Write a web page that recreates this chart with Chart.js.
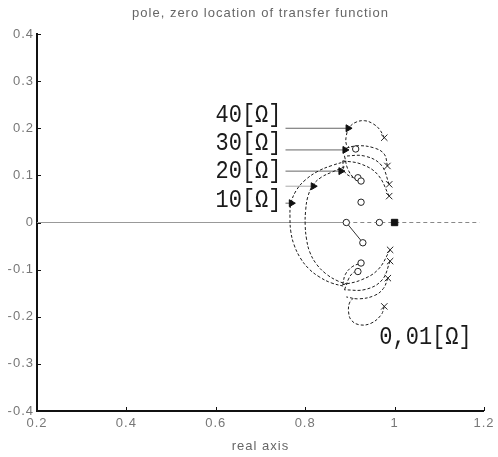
<!DOCTYPE html>
<html>
<head>
<meta charset="utf-8">
<script src="https://cdn.jsdelivr.net/npm/chart.js@4/dist/chart.umd.min.js"></script>
<style>
  html, body { margin: 0; padding: 0; background: #fff; }
  canvas { display: block; }
</style>
</head>
<body>
<canvas id="pzChart" width="498" height="457"></canvas>
<script>
const xTickLabels = ["0.2", "0.4", "0.6", "0.8", "1", "1.2"];
const yTickLabels = ["-0.4", "-0.3", "-0.2", "-0.1", "0", "0.1", "0.2", "0.3", "0.4"];

// poles at R = 0.01 ohm
const poleRe = [0.977, 0.984, 0.988, 0.988, 0.99, 0.99, 0.985, 0.977];
const poleIm = [0.18, 0.12, 0.081, 0.056, -0.058, -0.082, -0.118, -0.178];

// zeros
const zeroRe = [0.913, 0.918, 0.925, 0.925, 0.892, 0.966, 0.929, 0.925, 0.918];
const zeroIm = [0.156, 0.095, 0.088, 0.043, 0, 0, -0.043, -0.086, -0.104];

// filled marker on the real axis
const markRe = [1.0];
const markIm = [0];

// root loci as [re, im]
const loopUpper = [[0.977, 0.18], [0.966, 0.198], [0.951, 0.21], [0.933, 0.216], [0.914, 0.213], [0.899, 0.202], [0.892, 0.184], [0.892, 0.166], [0.899, 0.159]];
const arcUpperA = [[0.984, 0.12], [0.977, 0.145], [0.955, 0.158], [0.918, 0.163], [0.892, 0.158]];
const arcUpperB = [[0.988, 0.081], [0.97, 0.122], [0.933, 0.141], [0.888, 0.141]];
const arcUpperC = [[0.988, 0.056], [0.962, 0.102], [0.925, 0.124], [0.884, 0.131]];
const hookUpperA = [[0.884, 0.131], [0.888, 0.108], [0.905, 0.096], [0.918, 0.095]];
const hookUpperB = [[0.888, 0.141], [0.896, 0.112], [0.912, 0.092], [0.925, 0.088]];

const outerArc = [[0.892, 0.13], [0.86, 0.121], [0.829, 0.109], [0.8, 0.09], [0.78, 0.068], [0.768, 0.04], [0.766, 0.01], [0.768, -0.02], [0.775, -0.047], [0.789, -0.075], [0.808, -0.098], [0.831, -0.115], [0.858, -0.128], [0.89, -0.136]];
const innerArc = [[0.888, 0.118], [0.86, 0.107], [0.836, 0.096], [0.818, 0.08], [0.806, 0.055], [0.801, 0.025], [0.8, -0.005], [0.803, -0.035], [0.81, -0.062], [0.825, -0.088], [0.848, -0.11], [0.875, -0.125], [0.892, -0.13]];

const loopLower = [[0.977, -0.178], [0.97, -0.196], [0.947, -0.214], [0.921, -0.217], [0.903, -0.207], [0.897, -0.189], [0.899, -0.171], [0.907, -0.161]];
const arcLowerA = [[0.985, -0.118], [0.975, -0.14], [0.955, -0.155], [0.92, -0.162], [0.892, -0.158]];
const arcLowerB = [[0.99, -0.082], [0.972, -0.122], [0.935, -0.142], [0.888, -0.143]];
const arcLowerC = [[0.99, -0.058], [0.963, -0.1], [0.925, -0.122], [0.884, -0.132]];
const hookLowerA = [[0.884, -0.132], [0.89, -0.11], [0.905, -0.094], [0.925, -0.086]];
const hookLowerB = [[0.888, -0.143], [0.898, -0.118], [0.908, -0.106], [0.918, -0.104]];

const zeroLink = [[0.892, 0], [0.929, -0.043]];

// resistance tags and where their arrows land on the loci
const tagText = ["40[Ω]", "30[Ω]", "20[Ω]", "10[Ω]"];
const tagTipRe = [0.896, 0.889, 0.88, 0.769];
const tagTipIm = [0.2, 0.154, 0.109, 0.041];
const tagTailRe = 0.756;
const guideTip = [0.818, 0.077];
const startTag = "0,01[Ω]";

const pts = (re, im) => re.map((r, i) => ({ x: r, y: im[i] }));
const pairs = (arr) => arr.map(([x, y]) => ({ x, y }));

const locus = (arr) => ({
  data: pairs(arr),
  showLine: true,
  pointRadius: 0,
  borderColor: "#1c1c1c",
  borderWidth: 1,
  borderDash: [3, 2],
  tension: 0.4,
});

const solid = (arr, color) => ({
  data: pairs(arr),
  showLine: true,
  pointRadius: 0,
  borderColor: color,
  borderWidth: 1,
});

const datasets = [
  {
    data: pts(markRe, markIm),
    pointStyle: "rect",
    pointRadius: 4.5,
    backgroundColor: "#111",
    borderColor: "#111",
  },
  {
    data: pts(poleRe, poleIm),
    pointStyle: "crossRot",
    pointRadius: 4.5,
    borderColor: "#222",
    borderWidth: 1,
  },
  {
    data: pts(zeroRe, zeroIm),
    pointStyle: "circle",
    pointRadius: 3.2,
    backgroundColor: "#fff",
    borderColor: "#222",
    borderWidth: 1,
  },
  {
    data: tagTipRe.map((r, i) => ({ x: r, y: tagTipIm[i] })).concat([{ x: guideTip[0], y: guideTip[1] }]),
    pointStyle: "triangle",
    rotation: 90,
    pointRadius: 4,
    backgroundColor: "#111",
    borderColor: "#111",
  },
];

[loopUpper, arcUpperA, arcUpperB, arcUpperC, hookUpperA, hookUpperB,
 outerArc, innerArc,
 loopLower, arcLowerA, arcLowerB, arcLowerC, hookLowerA, hookLowerB].forEach((c) => datasets.push(locus(c)));

datasets.push(solid(zeroLink, "#333"));

// arrows from the tags
tagTipRe.forEach((r, i) => {
  datasets.push(solid([[tagTailRe, tagTipIm[i]], [r, tagTipIm[i]]], "#666"));
});
datasets.push(solid([[tagTailRe, guideTip[1]], guideTip], "#aaa"));

// real axis: solid up to the first zero, dashed beyond
datasets.push(solid([[0.2, 0], [zeroRe[4], 0]], "#999"));
datasets.push({ ...solid([[zeroRe[4], 0], [1.19, 0]], "#888"), borderDash: [4, 3] });

const tickFont = { family: "Liberation Sans, Arial, sans-serif", size: 13 };

const decorations = {
  id: "decorations",
  beforeDraw(chart) {
    chart.ctx.letterSpacing = "1px";
  },
  afterDraw(chart) {
    const { ctx, scales: { x, y } } = chart;
    ctx.save();

    // inward tick marks
    ctx.strokeStyle = "#111";
    ctx.lineWidth = 1;
    ctx.beginPath();
    x.ticks.forEach((t) => {
      const px = Math.round(x.getPixelForValue(t.value)) + 0.5;
      ctx.moveTo(px, x.top);
      ctx.lineTo(px, x.top - 4);
    });
    y.ticks.forEach((t) => {
      const py = Math.round(y.getPixelForValue(t.value)) + 0.5;
      ctx.moveTo(y.right, py);
      ctx.lineTo(y.right + 4, py);
    });
    ctx.stroke();

    // title
    ctx.letterSpacing = "1px";
    ctx.fillStyle = "#666";
    ctx.font = "13px Liberation Sans, Arial, sans-serif";
    ctx.textAlign = "center";
    ctx.textBaseline = "middle";
    ctx.fillText("pole, zero location of transfer function", (x.left + x.right) / 2, 13);

    // resistance tags
    ctx.letterSpacing = "0px";
    ctx.fillStyle = "#1a1a1a";
    ctx.font = "22px Liberation Mono, monospace";
    ctx.textAlign = "right";
    const lift = [-13, -7, 0, -3];
    const tailPx = x.getPixelForValue(tagTailRe) - 4;
    tagText.forEach((txt, i) => {
      const py = y.getPixelForValue(tagTipIm[i]) + lift[i];
      ctx.save();
      ctx.translate(tailPx, py);
      ctx.scale(1, 1.15);
      ctx.fillText(txt, 0, 0);
      ctx.restore();
    });
    ctx.textAlign = "left";
    ctx.save();
    ctx.translate(x.getPixelForValue(poleRe[7]) - 5, y.getPixelForValue(poleIm[7]) + 31);
    ctx.scale(1, 1.15);
    ctx.fillText(startTag, 0, 0);
    ctx.restore();

    ctx.restore();
  },
};

new Chart(document.getElementById("pzChart"), {
  type: "scatter",
  data: { datasets },
  options: {
    responsive: false,
    animation: false,
    layout: { padding: { top: 34, right: 11, left: 0, bottom: 0 } },
    plugins: {
      legend: { display: false },
      tooltip: { enabled: false },
    },
    scales: {
      x: {
        type: "linear",
        min: 0.2,
        max: 1.2,
        grid: { display: false, drawTicks: false },
        border: { color: "#111", width: 2 },
        ticks: {
          stepSize: 0.2,
          padding: 5,
          color: "#777",
          font: tickFont,
          maxRotation: 0,
          callback: (v, i) => xTickLabels[i],
        },
        title: {
          display: true,
          text: "real axis",
          color: "#666",
          font: tickFont,
          padding: { top: 0, bottom: 3 },
        },
        afterFit(scale) { scale.height = 46; },
      },
      y: {
        type: "linear",
        min: -0.4,
        max: 0.4,
        grid: { display: false, drawTicks: false },
        border: { color: "#111", width: 2 },
        ticks: {
          stepSize: 0.1,
          padding: 3,
          color: "#777",
          font: tickFont,
          callback: (v, i) => yTickLabels[i],
        },
        afterFit(scale) { scale.width = 37; },
      },
    },
  },
  plugins: [decorations],
});
</script>
</body>
</html>
